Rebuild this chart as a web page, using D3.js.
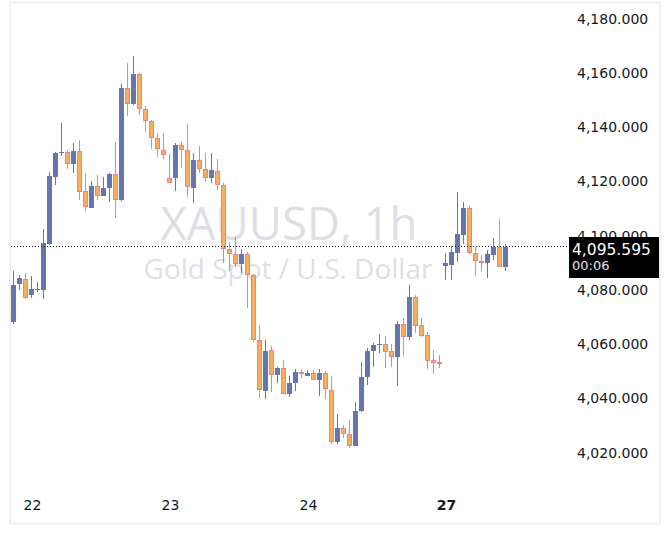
<!DOCTYPE html>
<html><head><meta charset="utf-8">
<script src="https://cdn.jsdelivr.net/npm/d3@7"></script>
<style>html,body{margin:0;padding:0;background:#fff;} svg{display:block}</style>
</head><body>
<script>
// ---- data (hourly XAUUSD candles) ----
const openP = [4068.0,4081.8,4083.7,4078.0,4079.7,4079.8,4096.7,4121.5,4130.4,4130.5,
  4126.3,4131.0,4116.2,4110.1,4118.1,4114.5,4117.2,4122.5,4112.8,4154.1,
  4148.2,4159.4,4146.3,4142.0,4135.6,4131.3,4120.9,4121.1,4133.1,4131.3,
  4117.4,4127.6,4124.2,4120.9,4123.5,4118.3,4094.7,4092.9,4089.2,4092.9,
  4085.3,4061.2,4042.6,4057.5,4048.3,4050.9,4041.3,4045.3,4049.6,4048.1,
  4049.0,4046.4,4049.0,4042.9,4023.8,4028.8,4026.5,4022.3,4035.1,4047.7,
  4057.2,4059.4,4059.7,4057.2,4055.1,4067.2,4062.5,4077.1,4066.8,4063.1,
  4053.9,4053.2,4088.7,4089.1,4093.5,4100.1,4109.9,4093.2,4090.5,4089.8,
  4092.6,4095.5,4088.3];
const highP = [4086.8,4085.2,4085.9,4084.9,4082.7,4102.2,4123.2,4130.6,4141.4,4131.3,
  4133.9,4135.0,4122.9,4120.0,4122.1,4121.5,4123.0,4134.3,4155.7,4163.3,
  4166.0,4159.6,4147.6,4142.4,4137.5,4137.5,4129.8,4134.0,4134.3,4140.9,
  4130.1,4132.7,4130.1,4130.1,4128.1,4119.0,4097.3,4099.2,4094.8,4093.7,
  4085.5,4066.8,4061.3,4059.1,4051.3,4053.9,4048.0,4050.5,4050.5,4050.2,
  4050.2,4050.6,4049.9,4048.0,4033.9,4030.0,4031.8,4038.4,4053.2,4058.2,
  4060.3,4063.5,4062.8,4059.7,4068.2,4069.3,4081.6,4077.9,4069.3,4064.4,
  4057.6,4055.8,4093.5,4095.9,4115.9,4112.2,4110.7,4095.7,4092.6,4094.5,
  4098.9,4105.9,4096.7];
const lowP = [4067.2,4079.7,4076.5,4076.9,4078.9,4076.5,4096.3,4118.4,4129.1,4124.3,
  4122.9,4112.9,4108.9,4110.0,4112.9,4114.4,4112.3,4106.4,4112.6,4144.0,
  4147.9,4144.2,4138.1,4131.7,4128.9,4128.1,4119.0,4116.3,4124.8,4114.1,
  4111.9,4122.7,4119.6,4119.3,4116.6,4089.8,4086.8,4088.1,4085.9,4073.0,
  4060.7,4040.0,4039.6,4042.0,4045.6,4041.3,4040.4,4042.6,4047.2,4048.0,
  4046.4,4040.7,4039.6,4022.9,4022.9,4025.3,4021.6,4022.2,4034.9,4044.8,
  4051.3,4056.6,4051.1,4051.4,4044.4,4055.5,4061.3,4063.8,4062.5,4050.6,
  4048.8,4051.1,4083.4,4083.4,4090.2,4096.7,4093.0,4085.0,4086.8,4084.3,
  4090.8,4088.3,4086.8];
const closeP = [4081.6,4084.0,4076.7,4080.1,4080.2,4097.1,4121.7,4130.2,4130.7,4126.3,
  4131.0,4116.0,4110.2,4118.1,4114.5,4117.3,4122.5,4112.8,4154.2,4148.2,
  4159.4,4146.3,4142.0,4135.6,4131.6,4129.4,4119.1,4133.1,4131.3,4117.6,
  4127.6,4124.2,4120.9,4124.0,4118.3,4094.7,4092.9,4089.2,4092.9,4085.3,
  4061.2,4042.9,4057.2,4048.3,4050.9,4041.3,4045.3,4049.5,4049.4,4049.0,
  4046.4,4049.0,4043.1,4023.8,4028.8,4026.5,4022.3,4035.1,4047.7,4057.2,
  4059.4,4059.7,4057.0,4055.1,4067.2,4062.5,4077.1,4066.6,4062.9,4053.7,
  4052.9,4052.3,4089.6,4093.7,4100.4,4109.9,4093.2,4090.3,4089.8,4093.0,
  4095.5,4088.3,4095.6];
const dayTickIndex = [3, 26, 49, 72];
const dayTickLabels = ["22", "23", "24", "27"];
const boldDayLabels = ["27"];
const priceTicks = [4020, 4040, 4060, 4080, 4100, 4120, 4140, 4160, 4180];
const lastPrice = 4095.595;
const countdown = "00:06";
const symbolTitle = "XAUUSD, 1h";
const symbolDesc = "Gold Spot / U.S. Dollar";

// ---- styles ----
const W = 670, H = 539;
const UP = "#6675ad", DOWN_FILL = "#f9ad5f", DOWN_LINE = "#f37e83";
const TXT = "#131722", AXIS_FONT = "DejaVu Sans";

const svg = d3.select("body").append("svg").attr("width", W).attr("height", H);
svg.append("rect").attr("width", W).attr("height", H).attr("fill", "#fff");

// frame
svg.append("rect").attr("x", 10).attr("y", 2.5).attr("width", 650).attr("height", 521)
  .attr("fill", "none").attr("stroke", "#f0f0f0").attr("stroke-width", 2);

const x = d3.scaleLinear().domain([0, openP.length - 1]).range([13.5, 505.5]);
const y = d3.scaleLinear().domain([4020, 4180]).range([452, 18]);

// watermark
const wm = svg.append("g").attr("font-family", "Open Sans").attr("fill", "#dedfe4").attr("text-anchor", "middle");
wm.append("text").attr("x", 289).attr("y", 240).attr("font-size", 45.5).text(symbolTitle);
wm.append("text").attr("x", 288).attr("y", 279).attr("font-size", 28).text(symbolDesc);

// candles
const data = openP.map((o, i) => ({ i, o, h: highP[i], l: lowP[i], c: closeP[i] }));
const g = svg.append("g");
g.selectAll("line.wick").data(data).join("line")
  .attr("x1", d => x(d.i)).attr("x2", d => x(d.i))
  .attr("y1", d => Math.round(y(d.h))).attr("y2", d => Math.round(y(d.l)))
  .attr("stroke", d => d.c >= d.o ? UP : DOWN_LINE).attr("stroke-width", 1);
g.selectAll("rect.body").data(data).join("rect")
  .each(function (d) {
    const top = Math.round(y(Math.max(d.o, d.c)));
    const bot = Math.round(y(Math.min(d.o, d.c)));
    const hgt = Math.max(1, bot - top);
    const r = d3.select(this);
    const left = x(d.i) - 2.5;
    if (d.c >= d.o) {
      r.attr("x", left).attr("y", top).attr("width", 5).attr("height", hgt).attr("fill", UP);
    } else if (hgt < 3) {
      r.attr("x", left).attr("y", top).attr("width", 5).attr("height", Math.max(2, hgt)).attr("fill", DOWN_LINE);
    } else {
      r.attr("x", left + 0.5).attr("y", top + 0.5).attr("width", 4).attr("height", hgt - 1)
        .attr("fill", DOWN_FILL).attr("stroke", DOWN_LINE).attr("stroke-width", 1);
    }
  });

// last price dotted line
const yl = Math.floor(y(lastPrice)) + 0.5;
svg.append("line").attr("x1", 11).attr("x2", 568).attr("y1", yl).attr("y2", yl)
  .attr("stroke", TXT).attr("stroke-width", 1).attr("stroke-dasharray", "1,2");

// price axis
const yAxis = d3.axisRight(y).tickValues(priceTicks).tickFormat(d3.format(",.3f")).tickSize(0).tickPadding(0);
const ya = svg.append("g").attr("transform", "translate(577,0)").call(yAxis);
ya.select(".domain").remove();
ya.selectAll("text").attr("font-family", AXIS_FONT).attr("font-size", 14).attr("fill", TXT).attr("dy", "0.36em");

// time axis
const xAxis = d3.axisBottom(x).tickValues(dayTickIndex).tickFormat((d, i) => dayTickLabels[i]).tickSize(0).tickPadding(0);
const xa = svg.append("g").attr("transform", "translate(0,510)").call(xAxis);
xa.select(".domain").remove();
xa.selectAll("text").attr("font-family", AXIS_FONT).attr("font-size", 14).attr("fill", TXT)
  .attr("dy", 0).attr("dx", 0.5)
  .attr("font-weight", (d, i) => boldDayLabels.includes(dayTickLabels[i]) ? "bold" : "normal");

// last price tag (covers the part of the 4,100 label beneath it, as in the source)
svg.append("rect").attr("x", 569).attr("y", 237).attr("width", 90).attr("height", 41).attr("fill", "#000");
svg.append("text").attr("x", 572).attr("y", 254.5).attr("font-family", AXIS_FONT).attr("font-size", 15.5)
  .attr("fill", "#fff").text(d3.format(",.3f")(lastPrice));
svg.append("text").attr("x", 572).attr("y", 270).attr("font-family", AXIS_FONT).attr("font-size", 13)
  .attr("fill", "#e6e6e6").text(countdown);
</script>
</body></html>
